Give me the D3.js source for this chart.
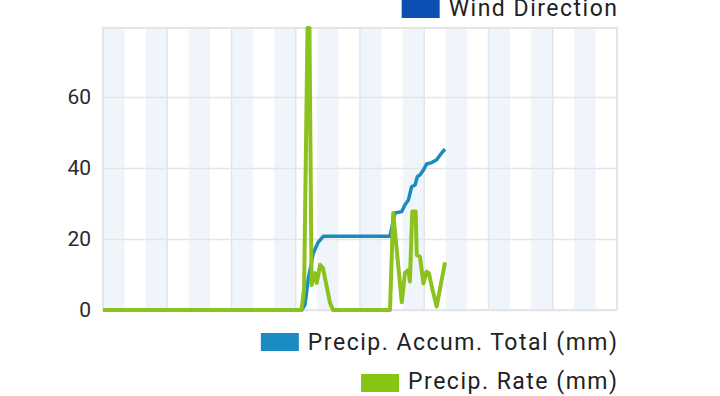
<!DOCTYPE html>
<html><head><meta charset="utf-8">
<script src="https://cdn.jsdelivr.net/npm/d3@7"></script>
<style>body{margin:0;background:#fff}svg{display:block;font-family:Roboto,"Noto Sans",sans-serif}</style>
</head><body><svg id="c" width="720" height="396"></svg>
<script>
// hours of day (decimal)
const rateHours = [0, 9.27, 9.39, 9.55, 9.64, 9.74, 9.90, 9.98, 10.14, 10.27, 10.45, 10.60, 10.74, 13.40, 13.55, 13.95, 14.10, 14.26, 14.33, 14.44, 14.60, 14.65, 14.80, 14.96, 15.11, 15.22, 15.35, 15.58, 15.97];
const rateValues = [0, 0, 6, 79.4, 79.4, 7, 10.4, 7.6, 12.7, 11.8, 6.5, 2, 0, 0, 27.3, 2.2, 10.4, 11.3, 8, 27.7, 27.7, 15.5, 15, 7.5, 10.8, 10.3, 6.6, 1, 13.4];
const accumHours = [0, 9.29, 9.43, 9.59, 9.82, 10.04, 10.29, 13.40, 13.63, 13.95, 14.10, 14.26, 14.41, 14.57, 14.68, 14.80, 14.96, 15.11, 15.35, 15.58, 15.81, 15.97];
const accumValues = [0, 0, 1.5, 9, 16, 19, 20.8, 20.8, 27.3, 27.7, 29.6, 31, 34.7, 35.2, 37.6, 38, 39.4, 41.1, 41.5, 42.3, 44.2, 45.3];
const yTicks = [0, 20, 40, 60];
const xGridHours = [0, 3, 6, 9, 12, 15, 18, 21, 24];
const shadedHours = [0, 2, 4, 6, 8, 10, 12, 14, 16, 18, 20, 22];
const legendTop = ["Wind Direction"];
const legendBottom = ["Precip. Accum. Total (mm)", "Precip. Rate (mm)"];

const svg = d3.select("#c");
const x = d3.scaleLinear().domain([0, 24]).range([103, 617]);
const y = d3.scaleLinear().domain([0, 79.4]).range([310, 28]);

// shaded hour bands
svg.append("g").selectAll("rect").data(shadedHours).join("rect")
  .attr("x", d => x(d)).attr("width", d => x(d + 1) - x(d))
  .attr("y", y(79.4)).attr("height", y(0) - y(79.4))
  .attr("fill", "#eff5fb");

// vertical grid
svg.append("g").selectAll("line").data(xGridHours).join("line")
  .attr("x1", d => x(d)).attr("x2", d => x(d))
  .attr("y1", y(79.4)).attr("y2", y(0))
  .attr("stroke", "#e3e5e8").attr("stroke-width", 1.5);

// horizontal grid + y axis
const yAxis = d3.axisLeft(y).tickValues(yTicks).tickSize(-(x(24) - x(0))).tickPadding(12);
const ga = svg.append("g").attr("transform", `translate(${x(0)},0)`).call(yAxis);
ga.select(".domain").remove();
ga.selectAll(".tick line").attr("stroke", "#e3e5e8").attr("stroke-width", 1.5);
ga.selectAll(".tick text").attr("font-size", 21).attr("fill", "#2a2a2a").attr("font-family", "Roboto");

// frame
svg.append("rect").attr("x", x(0)).attr("y", y(79.4)).attr("width", x(24) - x(0)).attr("height", y(0) - y(79.4))
  .attr("fill", "none").attr("stroke", "#e3e5e8").attr("stroke-width", 2);

const rate = rateHours.map((h, i) => [h, rateValues[i]]);
const accum = accumHours.map((h, i) => [h, accumValues[i]]);
const line = d3.line().x(d => x(d[0])).y(d => y(d[1]));

svg.append("path").datum(accum).attr("d", line).attr("fill", "none")
  .attr("stroke", "#1b8bbd").attr("stroke-width", 3.5).attr("stroke-linejoin", "round");
svg.append("path").datum(rate).attr("d", line).attr("fill", "none")
  .attr("stroke", "#8cc21e").attr("stroke-width", 4).attr("stroke-linejoin", "round");

// legends
function legendItem(textStr, color, rightX, baseline, sqY) {
  const t = svg.append("text").attr("x", rightX).attr("y", baseline).attr("text-anchor", "end")
    .attr("font-size", 23).attr("letter-spacing", "1.5px").attr("fill", "#222").text(textStr);
  const w = t.node().getComputedTextLength();
  svg.append("rect").attr("x", rightX - w - 47).attr("y", sqY).attr("width", 38).attr("height", 18).attr("fill", color);
}
legendItem(legendTop[0], "#0b4fb3", 618.5, 16, 0);
legendItem(legendBottom[0], "#1b8bc4", 618.5, 350, 333);
legendItem(legendBottom[1], "#88c414", 618.5, 389, 374);
</script></body></html>
